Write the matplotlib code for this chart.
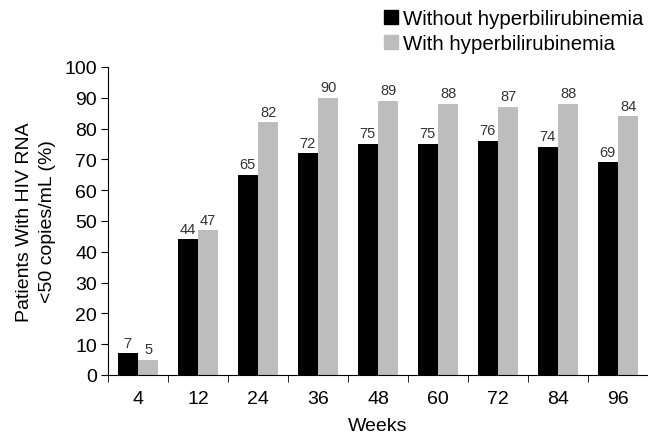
import matplotlib
matplotlib.use("Agg")
import matplotlib.pyplot as plt
from matplotlib.patches import Patch
import numpy as np

plt.rcParams['font.family'] = ['Liberation Sans', 'DejaVu Sans']

weeks = ["4", "12", "24", "36", "48", "60", "72", "84", "96"]
without_hyper = [7, 44, 65, 72, 75, 75, 76, 74, 69]
with_hyper = [5, 47, 82, 90, 89, 88, 87, 88, 84]

fig = plt.figure(figsize=(6.48, 4.35), dpi=100)
ax = fig.add_axes([108/648, 59/435, 540/648, 308/435])

n = np.arange(len(weeks)) + 0.5
w = 0.34
b1 = ax.bar(n - w/2, without_hyper, width=w, color='black', label='Without hyperbilirubinemia')
b2 = ax.bar(n + w/2, with_hyper, width=w, color='#bdbdbd', label='With hyperbilirubinemia')

for bars, vals in ((b1, without_hyper), (b2, with_hyper)):
    for r, v in zip(bars, vals):
        ax.text(r.get_x() + r.get_width()/2, v + 1.2, str(v), ha='center', va='bottom',
                fontsize=10.5, color='#333333')

ax.set_xlim(0, 9 * 540 / 543.6)
ax.set_ylim(0, 100)
ax.set_yticks(range(0, 101, 10))
ax.set_xticks(n)
ax.set_xticklabels(weeks)
ax.set_xticks(np.arange(0, 10), minor=True)
ax.tick_params(axis='x', which='major', length=0, pad=11, labelsize=14)
ax.tick_params(axis='x', which='minor', length=5, direction='out')
ax.tick_params(axis='y', length=5, labelsize=14, pad=3)

ax.spines['top'].set_visible(False)
ax.spines['right'].set_visible(False)

ax.set_xlabel('Weeks', fontsize=14, labelpad=7)
ax.set_ylabel('Patients With HIV RNA\n<50 copies/mL (%)', fontsize=14, labelpad=6,
              linespacing=1.45)

handles = [Patch(color='black'), Patch(color='#bdbdbd')]
fig.legend(handles, ['Without hyperbilirubinemia', 'With hyperbilirubinemia'],
           loc='upper right', bbox_to_anchor=(1.012, 1.005), frameon=False, fontsize=14.7,
           handlelength=0.7, handleheight=0.7, handletextpad=0.25, labelspacing=0.3,
           borderaxespad=0.2)

fig.savefig('out.png', dpi=100)
